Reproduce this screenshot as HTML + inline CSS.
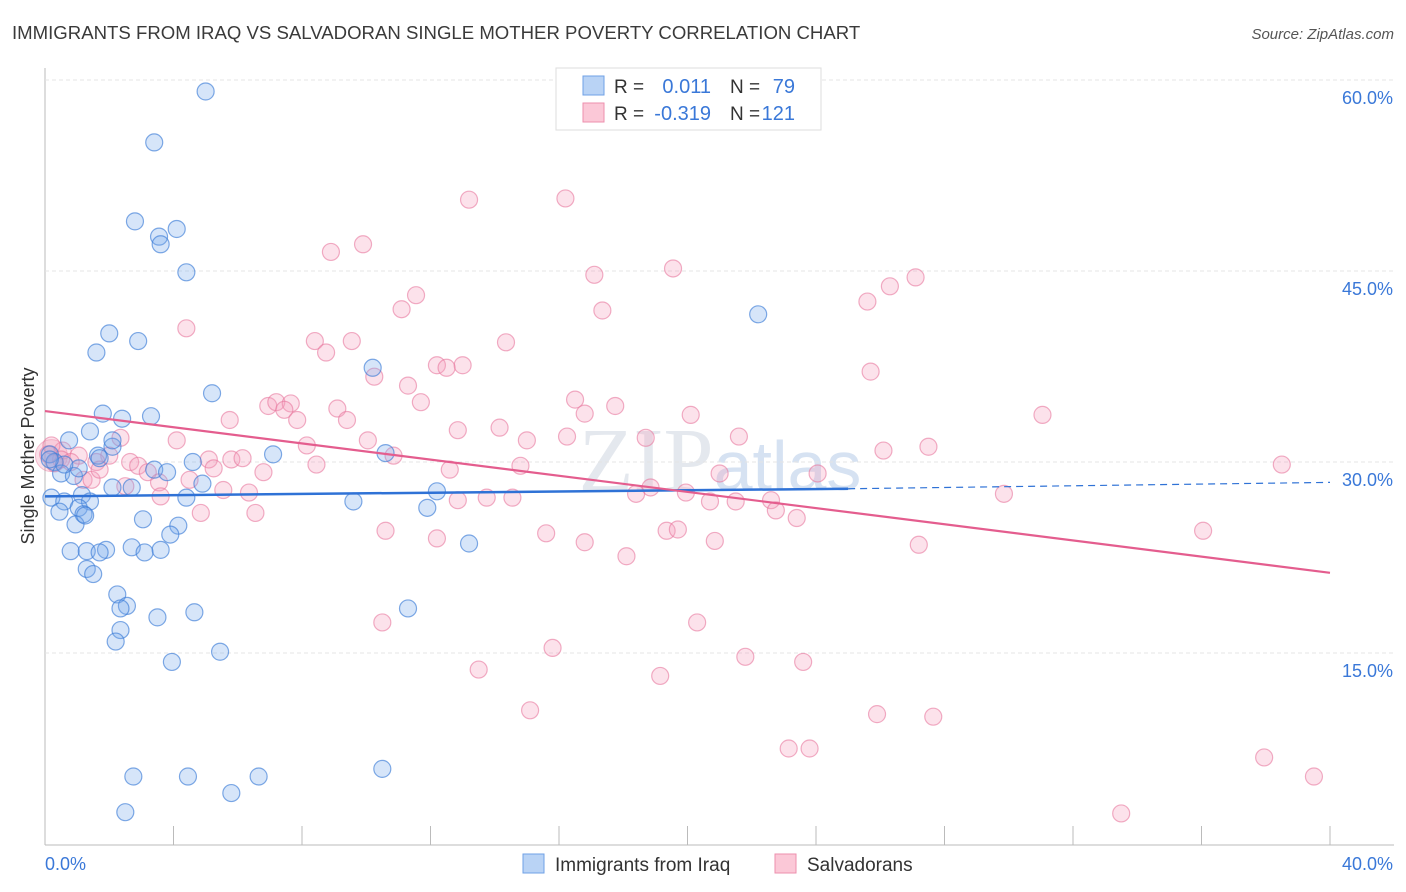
<!DOCTYPE html>
<html><head><meta charset="utf-8">
<style>
body{margin:0;background:#fff;font-family:"Liberation Sans",sans-serif;}
svg{display:block}
</style></head>
<body>
<svg id="chart" width="1406" height="892">
<text x="12" y="39" font-size="18.6" fill="#3a3a3a">IMMIGRANTS FROM IRAQ VS SALVADORAN SINGLE MOTHER POVERTY CORRELATION CHART</text>
<text x="1394" y="39" font-size="15" fill="#555" font-style="italic" text-anchor="end">Source: ZipAtlas.com</text>
<text x="34" y="456" font-size="18" fill="#333" text-anchor="middle" transform="rotate(-90 34 456)">Single Mother Poverty</text>
<text x="720" y="490" font-size="90" fill="#e4e8ee" text-anchor="middle" font-family="Liberation Serif,serif">ZIP<tspan font-family="Liberation Sans,sans-serif" font-size="70" fill="#d6e2f2">atlas</tspan></text>
<g id="grid"></g>
<g id="pts"></g>
<g id="lines"></g>
<g>
<rect x="556" y="68" width="265" height="62" fill="#fff" stroke="#ddd"/>
<rect x="583" y="76" width="21" height="19" fill="#b9d3f5" stroke="#6fa0e6"/>
<rect x="583" y="103" width="21" height="19" fill="#fbc8d7" stroke="#ee8fae"/>
<text x="614" y="93" font-size="19" fill="#333">R =</text><text x="711" y="93" font-size="20" fill="#3a78d8" text-anchor="end">0.011</text>
<text x="730" y="93" font-size="19" fill="#333">N =</text><text x="795" y="93" font-size="20" fill="#3a78d8" text-anchor="end">79</text>
<text x="614" y="120" font-size="19" fill="#333">R =</text><text x="711" y="120" font-size="20" fill="#3a78d8" text-anchor="end">-0.319</text>
<text x="730" y="120" font-size="19" fill="#333">N =</text><text x="795" y="120" font-size="20" fill="#3a78d8" text-anchor="end">121</text>
</g>
<g>
<rect x="523" y="854" width="21" height="19" fill="#b9d3f5" stroke="#6fa0e6"/>
<text x="555" y="871" font-size="19" fill="#333">Immigrants from Iraq</text>
<rect x="775" y="854" width="21" height="19" fill="#fbc8d7" stroke="#ee8fae"/>
<text x="807" y="871" font-size="19" fill="#333">Salvadorans</text>
</g>
</svg>
<script>
const xTicks=[0,4,8,12,16,20,24,28,32,36,40];
const yTicks=[15,30,45,60];
const yTickLabels=["15.0%","30.0%","45.0%","60.0%"];
const xEndLabels=["0.0%","40.0%"];
const iraqX=[5.0,3.4,2.8,3.55,4.1,3.6,4.4,22.2,2.0,2.9,1.6,10.2,5.2,1.8,2.4,3.3,1.4,0.75,2.1,1.65,1.7,10.6,7.1,0.15,0.3,4.6,3.4,3.8,0.5,0.9,2.7,2.1,4.9,12.2,4.4,1.15,0.2,0.6,1.4,9.6,1.05,11.9,0.45,1.2,3.05,0.95,4.15,3.9,13.2,0.8,1.3,1.9,2.7,3.1,3.6,1.3,1.5,2.25,2.55,2.35,11.3,4.65,3.5,2.35,2.2,5.45,3.95,10.5,2.75,4.45,6.65,5.8,2.5,1.05,2.1,0.6,0.15,1.25,1.7];
const iraqY=[59.1,55.1,48.9,47.7,48.3,47.1,44.9,41.6,40.1,39.5,38.6,37.4,35.4,33.8,33.4,33.6,32.4,31.7,31.2,30.5,30.3,30.7,30.6,30.6,30.0,30.0,29.4,29.2,29.1,28.9,28.0,28.0,28.3,27.7,27.2,27.4,27.2,26.9,26.9,26.9,26.4,26.4,26.1,25.9,25.5,25.1,25.0,24.3,23.6,23.0,23.0,23.1,23.3,22.9,23.1,21.6,21.2,19.6,18.7,18.5,18.5,18.2,17.8,16.8,15.9,15.1,14.3,5.9,5.3,5.3,5.3,4.0,2.5,29.5,31.7,29.8,30.2,25.8,22.9];
const salvX=[16.2,13.2,9.9,8.9,19.55,17.1,27.1,26.3,25.6,11.55,11.1,17.35,4.4,8.4,9.55,8.75,14.35,12.2,13.0,12.5,10.25,11.3,25.7,16.5,11.7,16.8,17.75,6.95,7.2,7.65,7.45,9.1,9.4,7.85,5.75,20.1,31.05,12.85,14.15,4.1,21.6,18.7,16.25,15.0,10.05,8.15,27.5,26.1,10.85,2.35,0.55,1.05,2.0,2.65,2.9,5.1,5.25,5.8,6.15,6.8,8.45,12.6,14.8,24.05,21.0,0.5,0.8,1.6,3.2,4.5,3.55,1.2,1.45,2.5,3.6,5.55,6.35,18.85,19.95,18.4,20.7,12.85,13.75,14.55,21.5,22.6,22.75,29.85,23.4,4.85,6.55,10.6,15.6,19.35,19.7,20.85,12.2,16.8,18.1,27.2,36.05,38.5,20.3,10.5,15.8,21.8,23.6,13.5,19.15,15.1,25.9,27.65,23.15,23.8,37.95,39.5,33.5,0.2,0.3,1.7,0.1];
const salvY=[50.7,50.6,47.1,46.5,45.2,44.7,44.5,43.8,42.6,43.1,42.0,41.9,40.5,39.5,39.5,38.6,39.4,37.6,37.6,37.4,36.7,36.0,37.1,34.9,34.7,33.8,34.4,34.4,34.7,34.6,34.1,34.2,33.3,33.3,33.3,33.7,33.7,32.5,32.7,31.7,32.0,31.9,32.0,31.7,31.7,31.3,31.2,30.9,30.5,31.9,30.9,30.5,30.5,30.0,29.7,30.2,29.5,30.2,30.3,29.2,29.8,29.4,29.7,29.1,29.1,30.2,30.0,30.0,29.2,28.6,28.4,28.6,28.6,28.1,27.3,27.8,27.6,28.0,27.6,27.5,26.9,27.0,27.2,27.2,26.9,27.0,26.2,27.5,25.6,26.0,26.0,24.6,24.4,24.6,24.7,23.8,24.0,23.7,22.6,23.5,24.6,29.8,17.4,17.4,15.4,14.7,14.3,13.7,13.2,10.5,10.2,10.0,7.5,7.5,6.8,5.3,2.4,31.3,29.9,29.4,30.6];
const iraqTrend=[27.3,27.9,28.4];
const iraqTrendX=[0,25,40];
const salvTrend=[34.0,21.3];
const salvTrendX=[0,40];

const NS="http://www.w3.org/2000/svg";
const X=v=>45+v*32.125;
const Y=v=>844-v*12.733;
function mk(tag,attrs,parent){const e=document.createElementNS(NS,tag);for(const k in attrs)e.setAttribute(k,attrs[k]);parent.appendChild(e);return e;}
const grid=document.getElementById('grid');
let ax=mk('line',{x1:45,y1:68,x2:45,y2:845,stroke:'#bbb','stroke-width':1},grid);


let bx=mk('line',{x1:45,y1:845,x2:1394,y2:845,stroke:'#bbb','stroke-width':1},grid);


yTicks.forEach((t,i)=>{
  const g=mk('line',{x1:45,y1:Y(t),x2:1394,y2:Y(t),stroke:'#e4e4e4','stroke-dasharray':'4,3'},grid);
  
  
  const l=mk('text',{x:1393,y:Y(t)+24,'font-size':18,fill:'#3a78d8','text-anchor':'end'},grid);
  l.textContent=yTickLabels[i];
  
  
});
xTicks.forEach(t=>{
  const k=mk('line',{x1:X(t),y1:826,x2:X(t),y2:845,stroke:'#bbb'},grid);
  
  
});
const l0=mk('text',{x:45,y:870,'font-size':18,fill:'#3a78d8'},grid);l0.textContent=xEndLabels[0];


const l1=mk('text',{x:1393,y:870,'font-size':18,fill:'#3a78d8','text-anchor':'end'},grid);l1.textContent=xEndLabels[1];



const pts=document.getElementById('pts');
const big=mk('circle',{cx:X(0.2),cy:Y(30.5),r:16,fill:'rgba(240,130,165,0.25)',stroke:'rgba(230,110,150,0.4)'},pts);


salvX.forEach((v,i)=>{
  const c=mk('circle',{cx:X(v),cy:Y(salvY[i]),r:8.5,fill:'rgba(246,160,188,0.3)',stroke:'rgba(232,120,158,0.6)','stroke-width':1.2},pts);
  
  
});
iraqX.forEach((v,i)=>{
  const c=mk('circle',{cx:X(v),cy:Y(iraqY[i]),r:8.5,fill:'rgba(120,170,235,0.3)',stroke:'rgba(60,125,215,0.65)','stroke-width':1.2},pts);
  
  
});
const lines=document.getElementById('lines');
const b1=mk('line',{x1:X(iraqTrendX[0]),y1:Y(iraqTrend[0]),x2:X(iraqTrendX[1]),y2:Y(iraqTrend[1]),stroke:'#2f72d6','stroke-width':2.5},lines);


const b2=mk('line',{x1:X(iraqTrendX[1]),y1:Y(iraqTrend[1]),x2:X(iraqTrendX[2]),y2:Y(iraqTrend[2]),stroke:'#2f72d6','stroke-width':1.2,'stroke-dasharray':'7,5'},lines);


const p1=mk('line',{x1:X(salvTrendX[0]),y1:Y(salvTrend[0]),x2:X(salvTrendX[1]),y2:Y(salvTrend[1]),stroke:'#e45d8e','stroke-width':2.2},lines);


</script>
</body></html>
